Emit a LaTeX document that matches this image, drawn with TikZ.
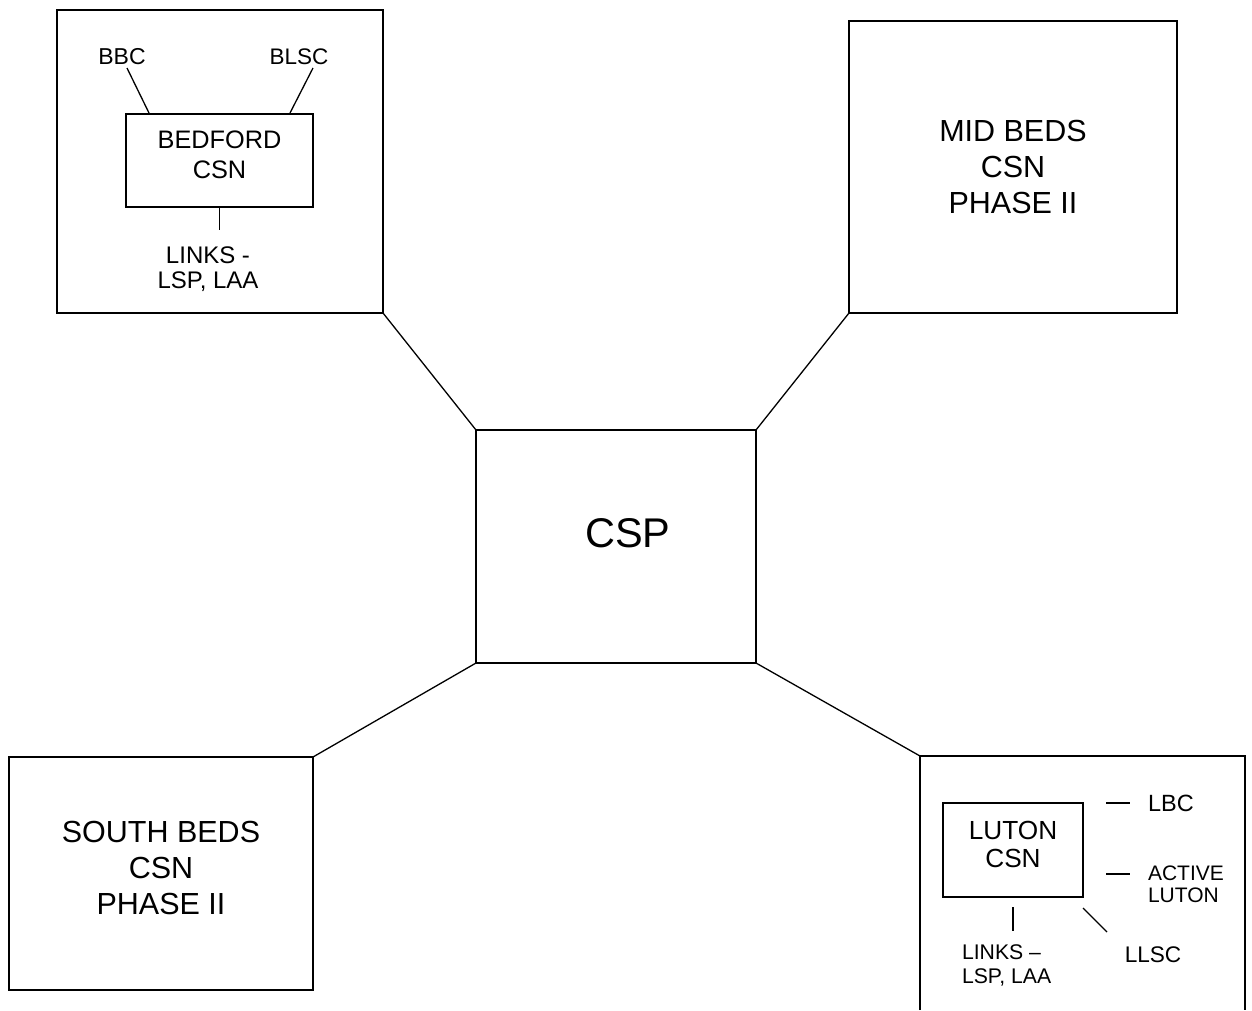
\documentclass[tikz,border=0pt]{standalone}
\usepackage{fontspec}
\setmainfont{Liberation Sans}
\begin{document}
\begin{tikzpicture}[x=1pt,y=-1pt,
  box/.style={draw,line width=1.4pt,inner sep=0pt,outer sep=0pt},
  lnk/.style={line width=1.3pt},
  lbl/.style={inner sep=0pt,outer sep=0pt,align=center,font=\fontsize{#1}{#1}\selectfont},
  lbl/.default=21]
\useasboundingbox (0,0) rectangle (1252,1010);
% outer boxes
\node[box,minimum width=326pt,minimum height=303pt] (bed) at (220,161.5) {};
\node[box,minimum width=328pt,minimum height=292pt,align=center,
  font=\fontsize{30.5}{36}\selectfont] (mid) at (1013,167) {MID BEDS\\CSN\\PHASE II};
\node[box,minimum width=304pt,minimum height=233pt] (south) at (161,873.5) {};
\node[align=center,inner sep=0pt,font=\fontsize{30.5}{36}\selectfont] (southtext) at (161,868) {SOUTH BEDS\\CSN\\PHASE II};
\node[box,minimum width=280pt,minimum height=233pt] (csp) at (616,546.5) {};
\node[lbl=41.5] (csptext) at (628,533) {CSP};
% Luton outer (open at bottom)
\coordinate (lutTL) at (920,756);
\coordinate (lutTR) at (1245,756);
\coordinate (lutBL) at (920,1010);
\coordinate (lutBR) at (1245,1010);
\draw[line width=1.4pt] (lutBL) -- (lutTL) -- (lutTR) -- (lutBR);
% connectors
\draw[lnk] (bed.south east) -- (csp.north west);
\draw[lnk] (mid.south west) -- (csp.north east);
\draw[lnk] (south.north east) -- (csp.south west);
\draw[lnk] (lutTL) -- (csp.south east);
% Bedford inside
\node[box,minimum width=187pt,minimum height=93pt] (bcsn) at (219.5,160.5) {};
\node[align=center,inner sep=0pt,font=\fontsize{25.3}{30}\selectfont] (bcsntext) at (219.5,155) {BEDFORD\\CSN};
\node[lbl=23] (bbc) at (122,57) {BBC};
\node[lbl=22.5] (blsc) at (299,57) {BLSC};
\node[lbl=24,font=\fontsize{24}{25}\selectfont] (blinks) at (208,269.5) {LINKS -\\LSP, LAA};
\coordinate (bbcA) at (127,68); \coordinate (bbcB) at (149,113);
\coordinate (blA) at (313,68); \coordinate (blB) at (290,113);
\draw[lnk] (bbcA) -- (bbcB);
\draw[lnk] (blA) -- (blB);
\draw[lnk] (bcsn.south) -- ++(0,23);
% Luton inside
\node[box,minimum width=140pt,minimum height=94pt] (lcsn) at (1013,850) {};
\node[align=center,inner sep=0pt,font=\fontsize{26.2}{28}\selectfont] (lcsntext) at (1013,844) {LUTON\\CSN};
\coordinate (d1a) at (1106,803); \coordinate (d1b) at (1130,803);
\coordinate (d2a) at (1106,874); \coordinate (d2b) at (1130,874);
\draw[lnk] (d1a) -- (d1b);
\draw[lnk] (d2a) -- (d2b);
\node[lbl=23.5,anchor=west] (lbc) at (1148,803) {LBC};
\node[lbl=21,anchor=west,align=left,font=\fontsize{21}{22}\selectfont] (active) at (1148,884) {ACTIVE\\LUTON};
\coordinate (v1a) at (1013,907); \coordinate (v1b) at (1013,931);
\draw[lnk] (v1a) -- (v1b);
\coordinate (g1a) at (1083,908); \coordinate (g1b) at (1107,932);
\draw[lnk] (g1a) -- (g1b);
\node[lbl=22.6] (llsc) at (1153,955) {LLSC};
\node[lbl=21.2,anchor=west,align=left,font=\fontsize{21.2}{24}\selectfont] (llinks) at (962,965) {LINKS --\\LSP, LAA};
\end{tikzpicture}
\end{document}
